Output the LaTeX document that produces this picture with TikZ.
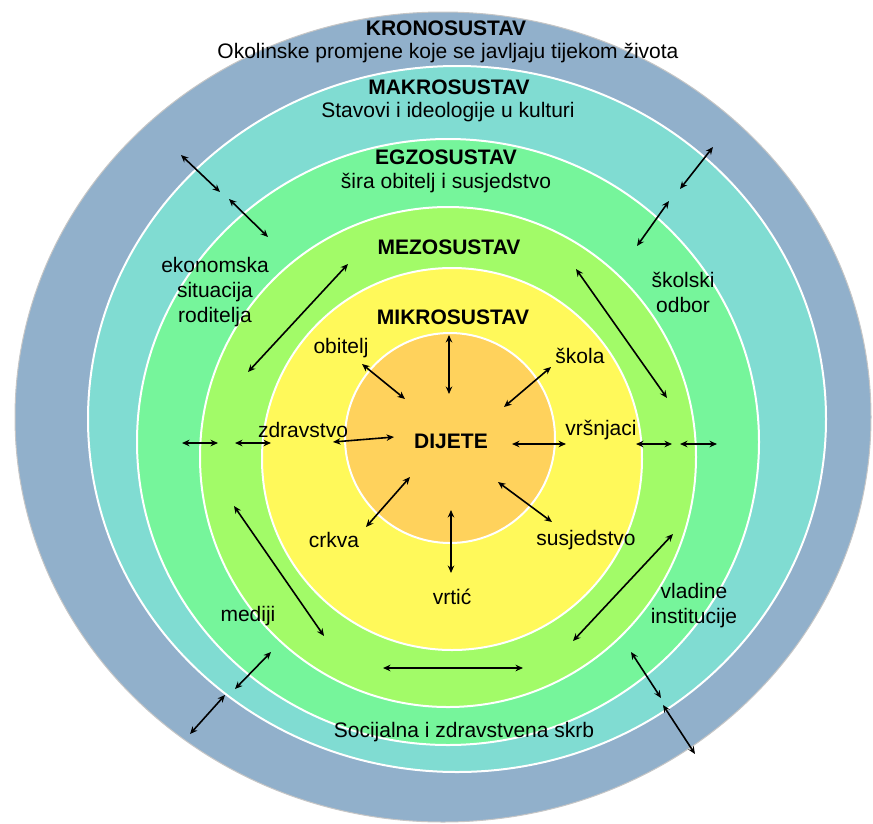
\documentclass[tikz,border=0pt]{standalone}
\usepackage{fontspec}
\setmainfont{Liberation Sans}
\definecolor{ringKrono}{HTML}{91B0CB}
\definecolor{ringMakro}{HTML}{80DCD2}
\definecolor{ringEgzo}{HTML}{76F59B}
\definecolor{ringMezo}{HTML}{A2FB68}
\definecolor{ringMikro}{HTML}{FFF95A}
\definecolor{ringCore}{HTML}{FFD25C}
\usetikzlibrary{arrows.meta}

\begin{document}
\begin{tikzpicture}[x=1pt, y=-1pt,
  band/.style={draw=white, line width=2pt},
  lbl/.style={font=\fontsize{21}{25}\selectfont, align=center, inner sep=0pt},
  head/.style={lbl, font=\fontsize{21}{25}\selectfont\bfseries},
  arr/.style={{Stealth[length=7.5pt,width=6.5pt]}-{Stealth[length=7.5pt,width=6.5pt]}, line width=1.6pt}
]
  \useasboundingbox (0,0) rectangle (873,823);

  % Rings, outside in
  \draw[band, draw=gray!45, line width=1pt, fill=ringKrono] (443,417) ellipse [x radius=428pt, y radius=405pt];
  \draw[band, fill=ringMakro] (457,419) ellipse [x radius=369pt, y radius=353pt];
  \draw[band, fill=ringEgzo] (448,442) ellipse [x radius=311pt, y radius=303pt];
  \draw[band, fill=ringMezo] (448,457) ellipse [x radius=248pt, y radius=250pt];
  \draw[band, fill=ringMikro] (452,459) ellipse [x radius=190pt, y radius=191pt];
  \draw[band, fill=ringCore] (450,438) circle [radius=105pt];

  % Ring titles
  \node[head] (krono) at (446,28) {KRONOSUSTAV};
  \node[lbl] (kronotxt) at (448,53) {Okolinske promjene koje se javljaju tijekom života};
  \node[head] (makro) at (449,87) {MAKROSUSTAV};
  \node[lbl] (makrotxt) at (448,112) {Stavovi i ideologije u kulturi};
  \node[head] (egzo) at (446,157) {EGZOSUSTAV};
  \node[lbl] (egzotxt) at (446,183) {šira obitelj i susjedstvo};
  \node[head] (mezo) at (449,247) {MEZOSUSTAV};
  \node[head] (mikro) at (453,317) {MIKROSUSTAV};
  \node[head] (dijete) at (451,441) {DIJETE};

  % Microsystem
  \node[lbl] (obitelj) at (341,348) {obitelj};
  \node[lbl] (skola) at (580,356) {škola};
  \node[lbl] (zdravstvo) at (303,430) {zdravstvo};
  \node[lbl] (vrsnjaci) at (601,430) {vršnjaci};
  \node[lbl] (crkva) at (334,540) {crkva};
  \node[lbl] (susjedstvo) at (586,540) {susjedstvo};
  \node[lbl] (vrtic) at (452,597) {vrtić};

  % Exosystem
  \node[lbl] (ekonomska) at (215,292) {ekonomska\\situacija\\roditelja};
  \node[lbl] (skolski) at (683,292) {školski\\odbor};
  \node[lbl] (mediji) at (248,616) {mediji};
  \node[lbl] (vladine) at (694,606) {vladine\\institucije};
  \node[lbl] (skrb) at (464,732) {Socijalna i zdravstvena skrb};

  % Links around the child
  \coordinate (n1) at (449,335); \coordinate (n2) at (449,394); \draw[arr] (n1) -- (n2);
  \coordinate (ob1) at (362,364); \coordinate (ob2) at (405,399); \draw[arr] (ob1) -- (ob2);
  \coordinate (sk1) at (551,367); \coordinate (sk2) at (504,407); \draw[arr] (sk1) -- (sk2);
  \coordinate (zd1) at (333,442); \coordinate (zd2) at (394,437); \draw[arr] (zd1) -- (zd2);
  \coordinate (vr1) at (512,444); \coordinate (vr2) at (566,444); \draw[arr] (vr1) -- (vr2);
  \coordinate (cr1) at (410,477); \coordinate (cr2) at (366,527); \draw[arr] (cr1) -- (cr2);
  \coordinate (su1) at (498,482); \coordinate (su2) at (552,522); \draw[arr] (su1) -- (su2);
  \coordinate (vt1) at (451,510); \coordinate (vt2) at (451,573); \draw[arr] (vt1) -- (vt2);

  % Mesosystem links
  \coordinate (ul1) at (348,264); \coordinate (ul2) at (248,372); \draw[arr] (ul1) -- (ul2);
  \coordinate (ur1) at (576,269); \coordinate (ur2) at (667,398); \draw[arr] (ur1) -- (ur2);
  \coordinate (ll1) at (234,506); \coordinate (ll2) at (324,636); \draw[arr] (ll1) -- (ll2);
  \coordinate (lr1) at (673,534); \coordinate (lr2) at (573,641); \draw[arr] (lr1) -- (lr2);
  \coordinate (bt1) at (383,668); \coordinate (bt2) at (523,668); \draw[arr] (bt1) -- (bt2);

  % Links through the outer rings
  \coordinate (wi1) at (235,443); \coordinate (wi2) at (271,443); \draw[arr] (wi1) -- (wi2);
  \coordinate (wo1) at (182,443); \coordinate (wo2) at (218,443); \draw[arr] (wo1) -- (wo2);
  \coordinate (ei1) at (636,444); \coordinate (ei2) at (672,444); \draw[arr] (ei1) -- (ei2);
  \coordinate (eo1) at (680,444); \coordinate (eo2) at (717,444); \draw[arr] (eo1) -- (eo2);
  \coordinate (nwo1) at (181,155); \coordinate (nwo2) at (220,192); \draw[arr] (nwo1) -- (nwo2);
  \coordinate (nwi1) at (229,199); \coordinate (nwi2) at (268,237); \draw[arr] (nwi1) -- (nwi2);
  \coordinate (neo1) at (713,147); \coordinate (neo2) at (680,189); \draw[arr] (neo1) -- (neo2);
  \coordinate (nei1) at (669,201); \coordinate (nei2) at (637,246); \draw[arr] (nei1) -- (nei2);
  \coordinate (swi1) at (271,652); \coordinate (swi2) at (235,689); \draw[arr] (swi1) -- (swi2);
  \coordinate (swo1) at (225,695); \coordinate (swo2) at (190,734); \draw[arr] (swo1) -- (swo2);
  \coordinate (sei1) at (631,652); \coordinate (sei2) at (661,698); \draw[arr] (sei1) -- (sei2);
  \coordinate (seo1) at (663,705); \coordinate (seo2) at (695,754); \draw[arr] (seo1) -- (seo2);
\end{tikzpicture}
\end{document}
